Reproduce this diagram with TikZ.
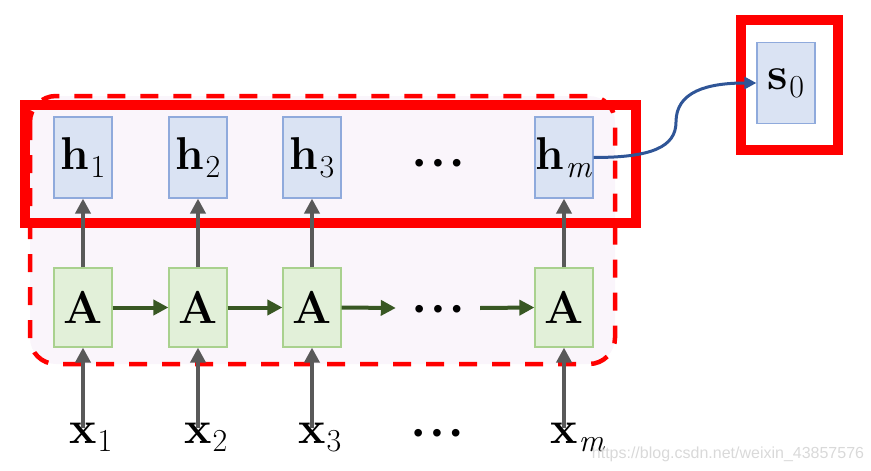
\documentclass[tikz,border=0pt]{standalone}
\usepackage{fontspec}
\usetikzlibrary{arrows.meta}
\definecolor{hfill}{RGB}{218,227,243}
\definecolor{hdraw}{RGB}{143,170,220}
\definecolor{afill}{RGB}{226,240,217}
\definecolor{adraw}{RGB}{169,209,142}
\definecolor{regionfill}{RGB}{250,245,251}
\definecolor{pptred}{RGB}{255,0,0}
\definecolor{arrgray}{RGB}{89,89,89}
\definecolor{arrgreen}{RGB}{56,87,35}
\definecolor{arrblue}{RGB}{47,85,151}
\newfontfamily\wmfont{Liberation Sans}
\newfontfamily\dotfont{Liberation Sans}
\newcommand{\subsz}{\fontsize{32}{32}\selectfont}
\newcommand{\bsub}[2]{\textbf{#1}\hspace{1pt}\raisebox{-8pt}{\subsz #2}}
\newcommand{\bsubr}[2]{\textbf{#1}\rlap{\hspace{1pt}\raisebox{-8pt}{\subsz #2}}}
\newcommand{\tdots}{{\dotfont\fontsize{28}{28}\selectfont •\hspace{9pt}•\hspace{9pt}•}}
\begin{document}
\begin{tikzpicture}[x=1pt,y=-1pt,
  lbl/.style={font=\fontsize{46}{52}\selectfont},
  hbox/.style={lbl,draw=hdraw,fill=hfill,line width=1.2pt,minimum width=58pt,minimum height=81pt,inner sep=0pt},
  abox/.style={lbl,draw=adraw,fill=afill,line width=1.2pt,minimum width=58pt,minimum height=79pt,inner sep=0pt},
  xlbl/.style={lbl,inner sep=0pt,anchor=base},
  dotsnode/.style={minimum width=84pt,inner sep=0pt,text height=20pt,text depth=0pt},
  grayarrow/.style={draw=arrgray,line width=4pt,-{Triangle[length=15pt,width=15pt]}},
  greenarrow/.style={draw=arrgreen,line width=4pt,-{Triangle[length=15pt,width=15pt]}},
  bluearrow/.style={draw=arrblue,line width=3pt,-{Triangle[length=12pt,width=12pt]}},
  region/.style={draw=pptred,fill=regionfill,line width=4.5pt,dash pattern=on 18pt off 15pt,rounded corners=26pt},
  redframe/.style={draw=pptred,line width=10pt}
]
\useasboundingbox (0,0) rectangle (871,471);

% dashed rounded region
\path[region] (30,96) rectangle (615,364);

% h boxes
\node[hbox] (h1) at (83,157.5) {\bsub{h}{1}};
\node[hbox] (h2) at (198,157.5) {\bsub{h}{2}};
\node[hbox] (h3) at (312,157.5) {\bsub{h}{3}};
\node[dotsnode] (hd) at (438,162) {\tdots};
\node[hbox] (hm) at (564,157.5) {\bsub{h}{\textit{m}}};

% A boxes
\node[abox] (A1) at (83,307.5) {\textbf{A}};
\node[abox] (A2) at (198,307.5) {\textbf{A}};
\node[abox] (A3) at (312,307.5) {\textbf{A}};
\node[dotsnode] (Ad) at (438,308) {\tdots};
\node[abox] (Am) at (564,307.5) {\textbf{A}};

% x labels
\node[xlbl] (x1) at (83,443) {\bsubr{x}{1}};
\node[xlbl] (x2) at (198,443) {\bsubr{x}{2}};
\node[xlbl] (x3) at (312,443) {\bsubr{x}{3}};
\node[dotsnode] (xd) at (437,432) {\tdots};
\node[xlbl] (xm) at (564,443) {\bsubr{x}{\textit{m}}};

% s0
\node[hbox] (s0) at (786,83) {\bsub{s}{0}};

% red frames
\draw[redframe] (24.5,104.5) rectangle (635.5,222.5);
\draw[redframe] (740.5,19.5) rectangle (837.5,150);

% vertical arrows A -> h
\foreach \i in {1,2,3,m}{
  \draw[grayarrow] (A\i.north) -- (h\i.south);
}
% vertical arrows x -> A
\foreach \i in {1,2,3,m}{
  \draw[grayarrow] ([yshift=-6pt]x\i.north) -- (A\i.south);
}

% horizontal arrows
\draw[greenarrow] (A1.east) -- (A2.west);
\draw[greenarrow] (A2.east) -- (A3.west);
\draw[greenarrow] (A3.east) -- (Ad.west);
\draw[greenarrow] (Ad.east) -- (Am.west);

% curve hm -> s0
\coordinate (bend) at (676,122);
\draw[bluearrow] (hm.east) .. controls +(58,0) and +(0,25) .. (bend)
  .. controls +(0,-30) and +(-50,0) .. (s0.west);

% watermark
\node[font=\wmfont\fontsize{16}{19}\selectfont,text=black!15,inner sep=0pt] (wm) at (728,454) {https://blog.csdn.net/weixin\_43857576};
\end{tikzpicture}
\end{document}
